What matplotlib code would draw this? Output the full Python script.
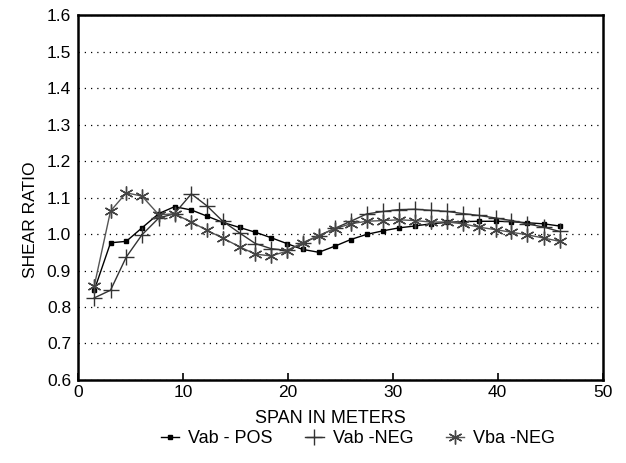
import matplotlib
matplotlib.use("Agg")
import matplotlib.pyplot as plt

plt.rcParams['font.family'] = ['Liberation Sans', 'DejaVu Sans']

# span positions (m)
span = [1.55, 3.1, 4.6, 6.1, 7.7, 9.2, 10.8, 12.3, 13.8, 15.4,
        16.9, 18.4, 19.9, 21.4, 22.95, 24.5, 26.0, 27.5, 29.1, 30.6,
        32.1, 33.6, 35.2, 36.7, 38.2, 39.8, 41.3, 42.8, 44.4, 45.9]

vab_pos = [0.846, 0.976, 0.980, 1.017, 1.056, 1.075, 1.066, 1.049, 1.032, 1.018,
           1.005, 0.990, 0.974, 0.958, 0.950, 0.967, 0.985, 0.999, 1.009, 1.017,
           1.022, 1.028, 1.032, 1.034, 1.035, 1.035, 1.034, 1.031, 1.028, 1.022]

vab_neg = [0.825, 0.846, 0.937, 0.998, 1.044, 1.056, 1.110, 1.077, 1.035, 1.003,
           0.974, 0.960, 0.955, 0.975, 0.995, 1.016, 1.035, 1.055, 1.062, 1.067,
           1.068, 1.065, 1.062, 1.056, 1.051, 1.044, 1.037, 1.028, 1.019, 1.007]

vba_neg = [0.858, 1.063, 1.113, 1.104, 1.053, 1.055, 1.033, 1.010, 0.989, 0.965,
           0.945, 0.940, 0.953, 0.976, 0.996, 1.015, 1.028, 1.035, 1.037, 1.039,
           1.037, 1.033, 1.033, 1.028, 1.019, 1.012, 1.005, 0.998, 0.989, 0.980]

xticks = [0, 10, 20, 30, 40, 50]
yticks = [0.6, 0.7, 0.8, 0.9, 1.0, 1.1, 1.2, 1.3, 1.4, 1.5, 1.6]

fig = plt.figure(figsize=(6.26, 4.63), dpi=100)
ax = fig.add_axes((0.1246, 0.1793, 0.838, 0.788))

ax.plot(span, vab_pos, color='black', lw=1.0, marker='s', ms=3.5,
        label='Vab - POS')
ax.plot(span, vab_neg, color='#333333', lw=1.0, marker='+', ms=11,
        mew=1.0, label='Vab -NEG')
ax.plot(span, vba_neg, color='#555555', lw=1.0, marker=(6, 2, 0), ms=10,
        mew=1.0, mec='#444444', label='Vba -NEG')

ax.set_xlim(0, 50)
ax.set_ylim(0.6, 1.6)
ax.set_xticks(xticks)
ax.set_yticks(yticks)
ax.set_yticklabels(['%.1f' % v for v in yticks])
ax.tick_params(axis='both', direction='in', labelsize=12.5, length=5, width=1.2)
ax.tick_params(axis='y', length=0, pad=5)
ax.grid(axis='y', linestyle=(0, (1, 4)), color='black', lw=0.9)
for s in ax.spines.values():
    s.set_linewidth(1.8)

ax.set_xlabel('SPAN IN METERS', fontsize=13)
ax.set_ylabel('SHEAR RATIO', fontsize=12.5)
ax.xaxis.set_label_coords(0.482, -0.083)
ax.yaxis.set_label_coords(-0.077, 0.438)

fig.legend(loc='center', bbox_to_anchor=(0.572, 0.052), ncol=3,
           frameon=False, fontsize=13, handlelength=1.0, columnspacing=1.8,
           handletextpad=0.5)

fig.savefig('out.png', dpi=100)
